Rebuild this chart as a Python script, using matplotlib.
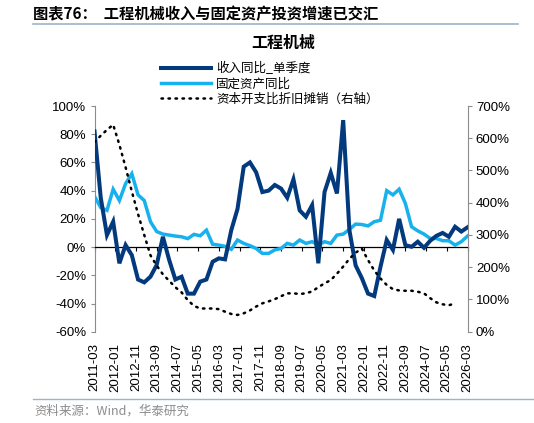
"""工程机械收入与固定资产投资增速 — recreated chart."""
import numpy as np
import matplotlib
matplotlib.use("Agg")
import matplotlib.pyplot as plt
from matplotlib.ticker import MultipleLocator, FuncFormatter
from matplotlib.lines import Line2D

plt.rcParams["font.family"] = ["Liberation Sans", "Noto Sans CJK SC", "DejaVu Sans"]
CJK = ["Noto Sans CJK SC", "DejaVu Sans"]

# quarterly points, 2011-03 .. 2026-03 (month offset from 2011-03)
MONTHS = np.arange(0, 181, 3)

REV_YOY = [82, 35, 8.5, 18, -11.5, 1.4, -5.7, -23, -25, -21,
           -12.7, 7.3, -9, -23, -21, -33, -33, -24.5, -23, -10.4,
           -8, -8.7, 12, 27, 57, 60, 53, 39, 40, 44,
           41.5, 35, 48, 26, 21.5, 29.7, -11.5, 39, 52.6, 38,
           90, 12, -13, -22, -33, -34.7, -14, 5, -2, 20,
           1.4, 0.2, 3.8, -0.5, 4.5, 8, 10, 7.3, 14.4, 11, 14]

FAI_YOY = [36, 28, 26, 41, 33, 45, 52, 37, 33, 18,
           11, 9.2, 8.5, 7.8, 7.3, 6, 9, 8, 12, 2,
           1.4, 0.5, -1.6, 5, 2.6, 1, -1, -4.5, -4.5, -2,
           -1, 2.6, 1.4, 5, 2.6, 3.8, 1.4, 3.8, 2.6, 8.5,
           9.2, 12.5, 16.3, 16, 15, 18, 19, 40, 37, 41,
           31, 14.4, 11.5, 9.2, 6.1, 6.1, 4.5, 4.5, 1.4, 3.8, 7.8]

CAPEX_DA = [588, 608, 626, 642, 580, 510, 435, 365, 300, 237,
            205, 178, 158, 138, 122, 98, 80, 72, 72, 72,
            70, 62, 55, 52, 57, 66, 78, 88, 94, 101,
            110, 119, 119, 117, 119, 125, 138, 150, 160, 180,
            202, 226, 245, 258, 222, 190, 165, 145, 132, 128,
            127, 127, 124, 119, 104, 91, 85, 82, 88]

XTICK_LABELS = ["2011-03", "2012-01", "2012-11", "2013-09", "2014-07", "2015-05",
                "2016-03", "2017-01", "2017-11", "2018-09", "2019-07", "2020-05",
                "2021-03", "2022-01", "2022-11", "2023-09", "2024-07", "2025-05",
                "2026-03"]

LABELS = ["收入同比_单季度", "固定资产同比", "资本开支比折旧摊销（右轴）"]

DARK = "#033A7D"
LIGHT = "#17B2EE"
GREY = "#8C8C8C"

fig = plt.figure(figsize=(5.34, 4.23), dpi=100)
ax = fig.add_axes([0.177, 0.2158, 0.6985, 0.5336])
ax2 = ax.twinx()

ax.plot(MONTHS, FAI_YOY, color=LIGHT, lw=2.5, solid_joinstyle="miter", zorder=3)
ax.plot(MONTHS, REV_YOY, color=DARK, lw=2.9, solid_joinstyle="miter", zorder=4)
ax2.plot(MONTHS[:len(CAPEX_DA)], CAPEX_DA, color="black", lw=1.8,
         linestyle=(0, (0.6, 2.2)), dash_capstyle="round")

ax.set_xlim(0, 180)
ax.set_ylim(-60, 100)
ax2.set_ylim(0, 700)
ax.yaxis.set_major_locator(MultipleLocator(20))
ax2.yaxis.set_major_locator(MultipleLocator(100))
pct = FuncFormatter(lambda v, _: f"{v:.0f}%")
ax.yaxis.set_major_formatter(pct)
ax2.yaxis.set_major_formatter(pct)

# zero line carries the x tick marks, labels sit at the bottom
tick_pos = np.arange(0, 181, 10)
ax.spines["bottom"].set_position(("data", 0))
ax.spines["bottom"].set_color("black")
ax.spines["bottom"].set_linewidth(0.9)
ax.set_xticks(tick_pos)
ax.tick_params(axis="x", direction="out", length=3, width=0.8, labelbottom=False)
sec = ax.secondary_xaxis(0)
sec.set_xticks(tick_pos)
sec.set_xticklabels(XTICK_LABELS, rotation=90, fontsize=9.5)
sec.tick_params(length=0, pad=8)
sec.spines["bottom"].set_visible(False)

for a in (ax, ax2):
    a.spines["top"].set_visible(False)
ax.spines["right"].set_visible(False)
ax2.spines["left"].set_visible(False)
ax2.spines["bottom"].set_visible(False)
ax.spines["left"].set_color(GREY)
ax2.spines["right"].set_color(GREY)
ax.tick_params(axis="y", direction="out", length=3, color=GREY, labelsize=9.5, pad=3)
ax2.tick_params(axis="y", direction="out", length=3, color=GREY, labelsize=9.5, pad=3)

handles = [Line2D([], [], color=DARK, lw=2.9),
           Line2D([], [], color=LIGHT, lw=2.5),
           Line2D([], [], color="black", lw=1.8, linestyle=(0, (0.6, 2.2)),
                  dash_capstyle="round")]
fig.legend(handles, LABELS, loc="upper left", bbox_to_anchor=(0.301, 0.853),
           frameon=False, handlelength=4.0, handletextpad=0.45, labelspacing=0.16,
           borderaxespad=0, borderpad=0, prop={"family": CJK, "size": 9})

fig.text(0.062, 0.967, "图表76：  工程机械收入与固定资产投资增速已交汇",
         family=CJK, fontsize=11, fontweight="bold", va="center", ha="left")
fig.add_artist(Line2D([0.062, 0.97], [0.943, 0.943], color="#9DB3CB", lw=1.2))
fig.text(0.53, 0.899, "工程机械", family=CJK, fontsize=11.5, fontweight="bold",
         va="center", ha="center")
fig.add_artist(Line2D([0.062, 1.0], [0.056, 0.056], color="#9DB3CB", lw=1.0))
fig.text(0.065, 0.027, "资料来源：Wind，华泰研究", family=CJK, fontsize=9,
         color="#8C8C8C", va="center", ha="left")

fig.savefig("out.png", dpi=100)
